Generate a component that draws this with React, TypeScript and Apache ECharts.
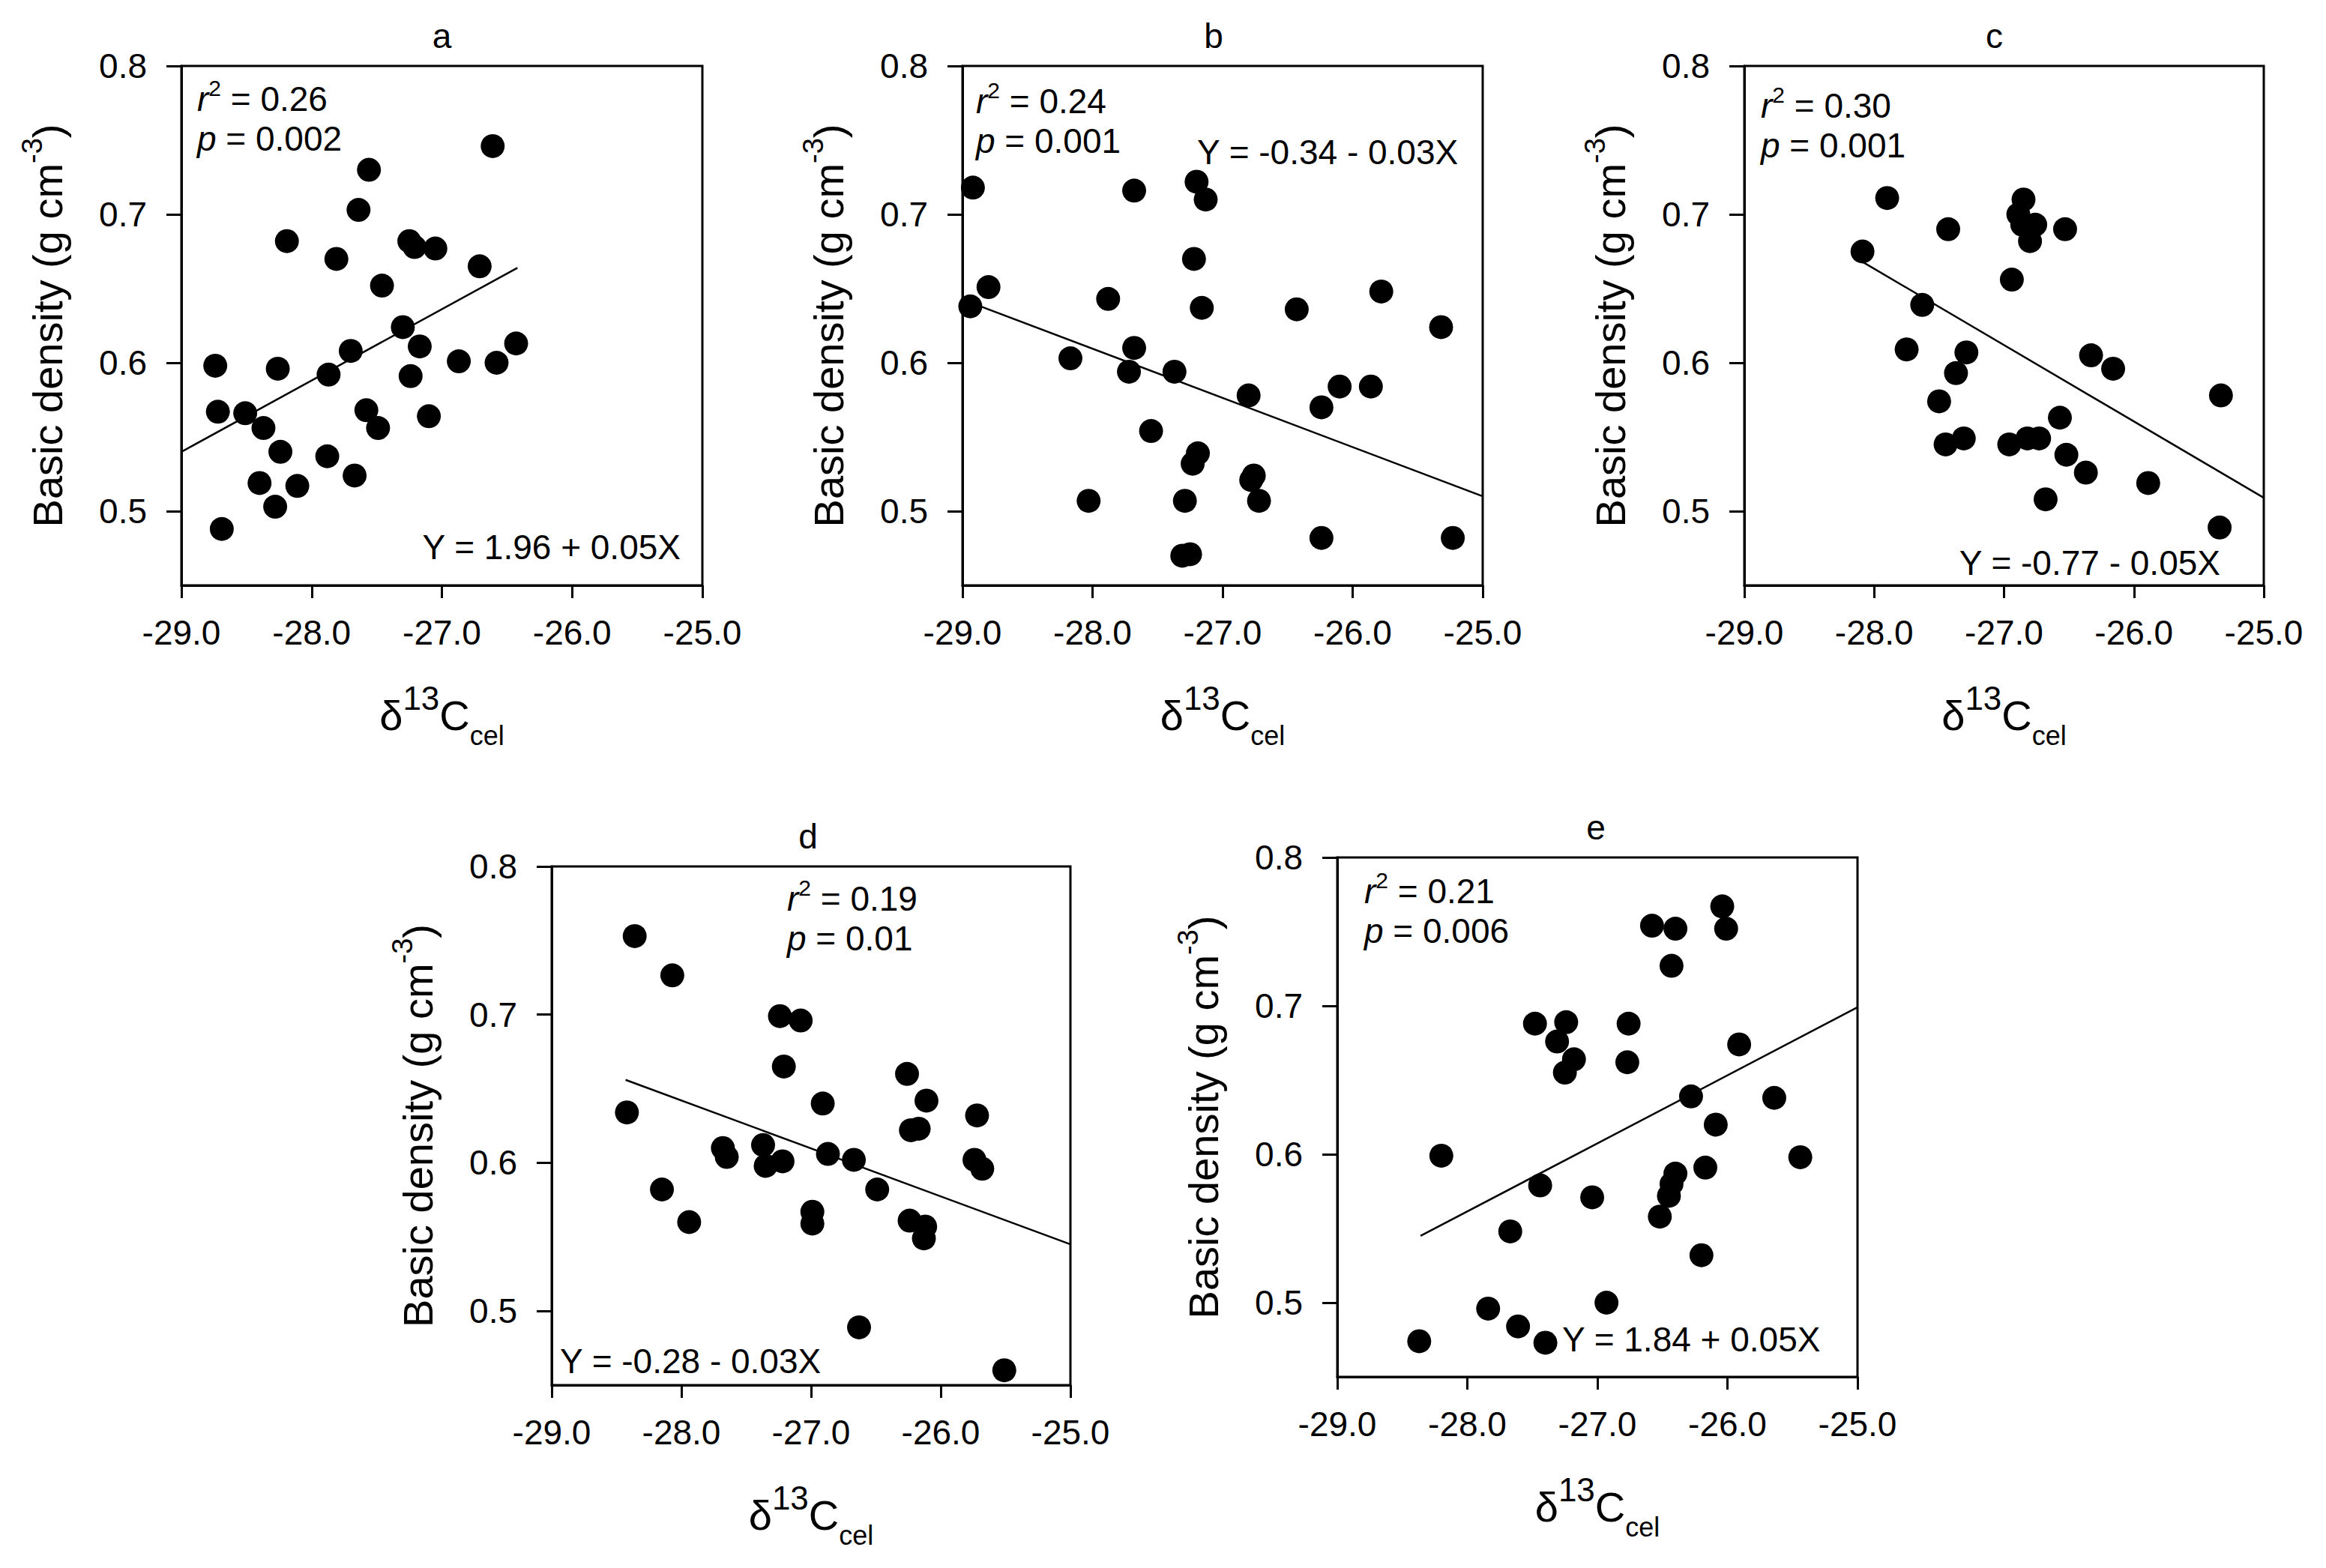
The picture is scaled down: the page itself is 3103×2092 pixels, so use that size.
import React, { useEffect, useRef } from "react";
import * as echarts from "echarts";

const FONT = "'Liberation Sans', Arial, sans-serif";

const panelLabels = ["a", "b", "c", "d", "e"];
const xTicks = [-29, -28, -27, -26, -25];
const yTicks = [0.5, 0.6, 0.7, 0.8];

// Panel a
const aX = [-26.61, -27.56, -27.64, -28.19, -27.81, -27.25, -27.21, -27.05, -26.71, -27.46, -27.3, -27.17, -26.43, -27.7, -28.74, -28.26, -27.87, -26.87, -26.58, -27.24, -28.72, -28.51, -28.37, -27.58, -27.49, -27.1, -28.24, -27.88, -28.4, -28.11, -27.67, -28.28, -28.69];
const aY = [0.746, 0.73, 0.703, 0.682, 0.67, 0.682, 0.678, 0.677, 0.665, 0.652, 0.624, 0.611, 0.613, 0.608, 0.598, 0.596, 0.592, 0.601, 0.6, 0.591, 0.567, 0.566, 0.556, 0.568, 0.556, 0.564, 0.54, 0.537, 0.519, 0.517, 0.524, 0.503, 0.488];
const aFit = [[-29, 0.54], [-26.42, 0.664]];

// Panel b
const bX = [-28.92, -27.68, -27.2, -27.13, -27.22, -28.8, -28.94, -27.88, -27.16, -26.43, -25.78, -25.32, -28.17, -27.68, -27.72, -27.37, -26.8, -26.1, -25.86, -26.24, -27.55, -27.19, -27.23, -26.76, -26.72, -26.78, -28.03, -27.29, -26.24, -25.23, -27.31, -27.25];
const bY = [0.718, 0.716, 0.722, 0.71, 0.67, 0.651, 0.638, 0.643, 0.637, 0.636, 0.648, 0.624, 0.603, 0.61, 0.594, 0.594, 0.578, 0.584, 0.584, 0.57, 0.554, 0.539, 0.532, 0.524, 0.507, 0.521, 0.507, 0.507, 0.482, 0.482, 0.47, 0.471];
const bFit = [[-28.92, 0.64], [-25, 0.51]];

// Panel c
const cX = [-27.9, -27.43, -26.85, -26.89, -26.86, -26.76, -26.8, -26.53, -28.09, -26.94, -27.63, -27.75, -27.29, -27.37, -26.33, -26.16, -25.33, -27.5, -26.57, -27.45, -27.31, -26.96, -26.82, -26.73, -26.52, -26.37, -26.68, -25.89, -25.34];
const cY = [0.711, 0.69, 0.71, 0.7, 0.693, 0.693, 0.682, 0.69, 0.675, 0.656, 0.639, 0.609, 0.607, 0.593, 0.605, 0.596, 0.578, 0.574, 0.563, 0.545, 0.549, 0.545, 0.549, 0.549, 0.538, 0.526, 0.508, 0.519, 0.489];
const cFit = [[-28.09, 0.668], [-25, 0.509]];

// Panel d
const dX = [-28.36, -28.07, -27.24, -27.08, -27.21, -26.26, -26.11, -26.91, -28.42, -25.72, -26.23, -26.17, -27.68, -27.65, -27.37, -27.35, -27.22, -26.87, -26.67, -25.74, -25.68, -28.15, -26.49, -27.94, -26.99, -26.99, -26.24, -26.12, -26.13, -26.63, -25.51];
const dY = [0.753, 0.7265, 0.699, 0.696, 0.665, 0.66, 0.642, 0.64, 0.634, 0.632, 0.622, 0.623, 0.61, 0.604, 0.612, 0.598, 0.601, 0.606, 0.602, 0.602, 0.596, 0.582, 0.582, 0.56, 0.567, 0.559, 0.561, 0.557, 0.549, 0.489, 0.46];
const dFit = [[-28.43, 0.656], [-25, 0.545]];

// Panel e
const eX = [-26.04, -26.01, -26.58, -26.4, -26.43, -27.48, -27.24, -26.76, -27.31, -27.18, -27.25, -26.77, -25.91, -26.28, -25.64, -26.09, -28.2, -25.44, -26.17, -26.4, -26.43, -26.45, -27.44, -27.04, -26.52, -27.67, -26.2, -26.93, -27.84, -27.61, -28.37, -27.4];
const eY = [0.767, 0.752, 0.754, 0.752, 0.727, 0.688, 0.689, 0.688, 0.676, 0.664, 0.655, 0.662, 0.674, 0.639, 0.638, 0.62, 0.599, 0.598, 0.591, 0.587, 0.58, 0.572, 0.579, 0.571, 0.558, 0.548, 0.532, 0.5, 0.496, 0.484, 0.474, 0.473];
const eFit = [[-28.36, 0.545], [-25, 0.699]];

const r2Values = ["0.26", "0.24", "0.30", "0.19", "0.21"];
const pValues = ["0.002", "0.001", "0.001", "0.01", "0.006"];
const equations = [
  "Y = 1.96 + 0.05X",
  "Y = -0.34 - 0.03X",
  "Y = -0.77 - 0.05X",
  "Y = -0.28 - 0.03X",
  "Y = 1.84 + 0.05X",
];

const xs = [aX, bX, cX, dX, eX];
const ys = [aY, bY, cY, dY, eY];
const fits = [aFit, bFit, cFit, dFit, eFit];

// layout (pixels)
const layout = [
  { left: 242, top: 88, width: 695, height: 693, tx: 0, sx: 263, sy: 147, ex: 908, ey: 745, ea: "right" },
  { left: 1284, top: 88, width: 694, height: 693, tx: -12, sx: 1302, sy: 150, ex: 1597, ey: 218, ea: "left" },
  { left: 2327, top: 88, width: 693, height: 693, tx: -13, sx: 2349, sy: 156, ex: 2962, ey: 766, ea: "right" },
  { left: 736, top: 1156, width: 692, height: 692, tx: -4, sx: 1050, sy: 1214, ex: 747, ey: 1831, ea: "left" },
  { left: 1784, top: 1144, width: 694, height: 693, tx: -2, sx: 1820, sy: 1204, ex: 2084, ey: 1802, ea: "left" },
];

const TICK_FS = 46;
const ANN_FS = 46;
const NAME_FS = 56;

function buildOption() {
  const grid: any[] = [];
  const xAxis: any[] = [];
  const yAxis: any[] = [];
  const series: any[] = [];
  const graphic: any[] = [];

  layout.forEach((L, i) => {
    grid.push({
      left: L.left,
      top: L.top,
      width: L.width,
      height: L.height,
      show: true,
      borderColor: "#000",
      borderWidth: 3,
      backgroundColor: "transparent",
    });
    xAxis.push({
      gridIndex: i,
      type: "value",
      min: xTicks[0],
      max: xTicks[xTicks.length - 1],
      interval: 1,
      axisLine: { show: true, lineStyle: { color: "#000", width: 3 } },
      axisTick: { show: true, inside: false, length: 17, lineStyle: { color: "#000", width: 3 } },
      axisLabel: {
        formatter: (v: number) => v.toFixed(1),
        fontSize: TICK_FS,
        fontFamily: FONT,
        color: "#000",
        margin: 40,
      },
      splitLine: { show: false },
      name: "{b|δ}{sup|13}{b|C}{sub|cel}",
      nameLocation: "middle",
      nameGap: 128,
      nameTextStyle: {
        rich: {
          b: { fontSize: NAME_FS, fontFamily: FONT, color: "#000", lineHeight: 90 },
          sup: { fontSize: 44, fontFamily: FONT, color: "#000", lineHeight: 58, verticalAlign: "top" },
          sub: { fontSize: 36, fontFamily: FONT, color: "#000", lineHeight: 34, verticalAlign: "bottom" },
        },
      },
    });
    yAxis.push({
      gridIndex: i,
      type: "value",
      min: 0.45,
      max: 0.8,
      axisLine: { show: true, lineStyle: { color: "#000", width: 3 } },
      axisTick: { show: true, inside: false, length: 20, customValues: yTicks, lineStyle: { color: "#000", width: 3 } },
      axisLabel: {
        customValues: yTicks,
        formatter: (v: number) => v.toFixed(1),
        fontSize: TICK_FS,
        fontFamily: FONT,
        color: "#000",
        margin: 46,
      },
      splitLine: { show: false },
      name: "{b|Basic density (g cm}{sup|-3}{b|)}",
      nameLocation: "middle",
      nameGap: 140,
      nameTextStyle: {
        rich: {
          b: { fontSize: NAME_FS, fontFamily: FONT, color: "#000", lineHeight: 78 },
          sup: { fontSize: 38, fontFamily: FONT, color: "#000", lineHeight: 40, verticalAlign: "top" },
        },
      },
    });
    series.push({
      type: "scatter",
      xAxisIndex: i,
      yAxisIndex: i,
      data: xs[i].map((x, k) => [x, ys[i][k]]),
      symbol: "circle",
      symbolSize: 32,
      itemStyle: { color: "#000", opacity: 1 },
      clip: false,
    });
    series.push({
      type: "line",
      xAxisIndex: i,
      yAxisIndex: i,
      data: fits[i],
      symbol: "none",
      showSymbol: false,
      lineStyle: { color: "#000", width: 2.5 },
    });

    // panel title
    graphic.push({
      type: "text",
      x: L.left + L.width / 2 + L.tx,
      y: L.top - 40,
      style: {
        text: panelLabels[i],
        font: `46px ${FONT}`,
        fill: "#000",
        align: "center",
        verticalAlign: "middle",
      },
    });
    const annRich = {
      i: { fontSize: ANN_FS, fontFamily: FONT, fontStyle: "italic", fill: "#000", color: "#000", lineHeight: 60 },
      n: { fontSize: ANN_FS, fontFamily: FONT, fill: "#000", color: "#000", lineHeight: 60 },
      sup: { fontSize: 30, fontFamily: FONT, fill: "#000", color: "#000", lineHeight: 30, verticalAlign: "top" },
    };
    graphic.push({
      type: "text",
      x: L.sx,
      y: L.sy - 45,
      style: {
        text: `{i|r}{sup|2}{n| = ${r2Values[i]}}`,
        rich: annRich,
        align: "left",
        verticalAlign: "top",
      },
    });
    graphic.push({
      type: "text",
      x: L.sx,
      y: L.sy + 53 - 45,
      style: {
        text: `{i|p}{n| = ${pValues[i]}}`,
        rich: annRich,
        align: "left",
        verticalAlign: "top",
      },
    });
    graphic.push({
      type: "text",
      x: L.ex,
      y: L.ey - 45,
      style: {
        text: `{n|${equations[i]}}`,
        rich: annRich,
        align: L.ea,
        verticalAlign: "top",
      },
    });
  });

  return {
    animation: false,
    backgroundColor: "#fff",
    grid,
    xAxis,
    yAxis,
    series,
    graphic,
  };
}

export default function App() {
  const ref = useRef<HTMLDivElement>(null);
  useEffect(() => {
    if (!ref.current) return;
    const chart = echarts.init(ref.current, undefined, { renderer: "svg" });
    chart.setOption(buildOption() as any);
    return () => chart.dispose();
  }, []);
  return (
    <div
      ref={ref}
      style={{ position: "fixed", left: 0, top: 0, width: 3103, height: 2092, background: "#fff" }}
    />
  );
}
